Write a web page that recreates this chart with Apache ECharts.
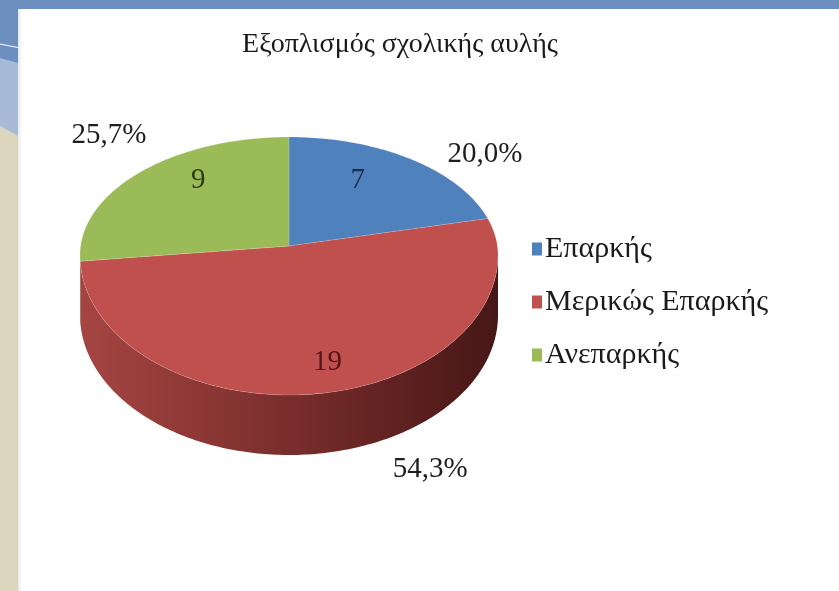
<!DOCTYPE html>
<html><head><meta charset="utf-8">
<script src="https://cdn.jsdelivr.net/npm/echarts@6/dist/echarts.min.js"></script>
<style>html,body{margin:0;padding:0;background:#fff}#c{width:839px;height:591px}</style>
</head><body><div id="c"></div>
<script>
// ---- data ----
const title = 'Εξοπλισμός σχολικής αυλής';
const categories = ['Επαρκής', 'Μερικώς Επαρκής', 'Ανεπαρκής'];
const values = [7, 19, 9];

// ---- style / layout ----
const topColors = ['#4f81bd', '#c0504d', '#9bbb59'];
const sideStops = [
  ['#3f6fa8', '#2f5687', '#22406a'],
  ['#a54542', '#7e302e', '#461716'],
  ['#8aa84c', '#6f8a3a', '#55692c']
];
const valueColors = ['#1c2e4c', '#5a1515', '#2f3c16'];
const FONT = "'Liberation Serif','Times New Roman',serif";
const GEO = { cx: 289, cy: 255, apexY: 246, rx: 209, ryTop: 118, ryBot: 140, depth: 60, labelFrac: 0.6 };
const valueLabelOffset = [[-5, -14], [16, 28], [0, -22]];
const pctLabelOffset = [[73, -5], [104, 77], [-29, -38]];

const total = values.reduce((a, b) => a + b, 0);
const startDeg = [];
let acc = 0;
values.forEach(v => { startDeg.push(acc / total * 360); acc += v; });

function pt(deg, dy) {
  const t = deg * Math.PI / 180;
  const c = Math.cos(t);
  return [GEO.cx + GEO.rx * Math.sin(t), GEO.cy - (c > 0 ? GEO.ryTop : GEO.ryBot) * c + (dy || 0)];
}
function arcPts(a, b, dy) {
  const pts = [];
  const n = Math.max(2, Math.ceil((b - a) / 1));
  for (let k = 0; k <= n; k++) pts.push(pt(a + (b - a) * k / n, dy));
  return pts;
}

function makeRender(i) {
  return function (params, api) {
    const a = startDeg[i];
    const b = a + values[i] / total * 360;
    const children = [];
    const sa = Math.max(a, 90), sb = Math.min(b, 270);
    if (sb > sa) {
      const top = arcPts(sa, sb, 0);
      const bot = arcPts(sa, sb, GEO.depth).reverse();
      children.push({
        type: 'polygon', z2: 1,
        shape: { points: top.concat(bot) },
        style: {
          fill: new echarts.graphic.LinearGradient(GEO.cx - GEO.rx, 0, GEO.cx + GEO.rx, 0, [
            { offset: 0, color: sideStops[i][0] },
            { offset: 0.45, color: sideStops[i][1] },
            { offset: 1, color: sideStops[i][2] }
          ], true),
          stroke: null
        }
      });
    }
    const apex = [GEO.cx, GEO.apexY];
    children.push({
      type: 'polygon', z2: 10,
      shape: { points: [apex].concat(arcPts(a, b, 0)) },
      style: { fill: topColors[i], stroke: 'rgba(255,255,255,0.25)', lineWidth: 0.6 }
    });
    const mid = (a + b) / 2;
    const e = pt(mid, 0);
    const vx = apex[0] + GEO.labelFrac * (e[0] - apex[0]) + valueLabelOffset[i][0];
    const vy = apex[1] + GEO.labelFrac * (e[1] - apex[1]) + valueLabelOffset[i][1];
    children.push({
      type: 'text', z2: 20, x: vx, y: vy,
      style: { text: String(values[i]), fill: valueColors[i], font: '29px ' + FONT, align: 'center', verticalAlign: 'middle' }
    });
    const pct = (values[i] / total * 100).toFixed(1).replace('.', ',') + '%';
    children.push({
      type: 'text', z2: 20, x: e[0] + pctLabelOffset[i][0], y: e[1] + pctLabelOffset[i][1],
      style: { text: pct, fill: '#1e1e1e', font: '29px ' + FONT, align: 'center', verticalAlign: 'middle' }
    });
    return { type: 'group', children: children };
  };
}

const series = categories.map((name, i) => ({
  type: 'custom',
  name: name,
  coordinateSystem: 'none',
  data: [values[i]],
  itemStyle: { color: topColors[i] },
  renderItem: makeRender(i),
  silent: true
}));

const chart = echarts.init(document.getElementById('c'), null, { renderer: 'canvas' });
chart.setOption({
  animation: false,
  backgroundColor: '#ffffff',
  title: {
    text: title, left: 395, top: 26, textAlign: 'center',
    textStyle: { fontFamily: FONT, fontSize: 28, fontWeight: 'normal', color: '#1a1a1a' }
  },
  legend: {
    orient: 'vertical', left: 527, top: 229,
    data: categories,
    icon: 'rect', itemWidth: 10, itemHeight: 13, itemGap: 23,
    selectedMode: false,
    textStyle: { fontFamily: FONT, fontSize: 30, color: '#1a1a1a', padding: [0, 0, 0, -2] }
  },
  graphic: [
    { type: 'rect', shape: { x: 0, y: 0, width: 839, height: 9 }, style: { fill: '#6d8fbf' }, z: -10 },
    { type: 'rect', shape: { x: 0, y: 0, width: 18, height: 591 }, style: { fill: '#ddd6be' }, z: -10 },
    { type: 'polygon', shape: { points: [[0, 0], [18, 0], [18, 136], [0, 126]] }, style: { fill: '#a7bbd7' }, z: -9 },
    { type: 'polygon', shape: { points: [[0, 0], [18, 0], [18, 63], [0, 58]] }, style: { fill: '#6d8fbf' }, z: -8 },
    { type: 'line', shape: { x1: 0, y1: 44, x2: 20, y2: 48 }, style: { stroke: '#ffffff', lineWidth: 1 }, z: -7 },
    { type: 'rect', shape: { x: 18, y: 9, width: 4, height: 582 }, style: { fill: new echarts.graphic.LinearGradient(0, 0, 1, 0, [{ offset: 0, color: '#e6e8ec' }, { offset: 1, color: '#ffffff' }]) }, z: -7 }
  ],
  series: series
});
</script></body></html>
